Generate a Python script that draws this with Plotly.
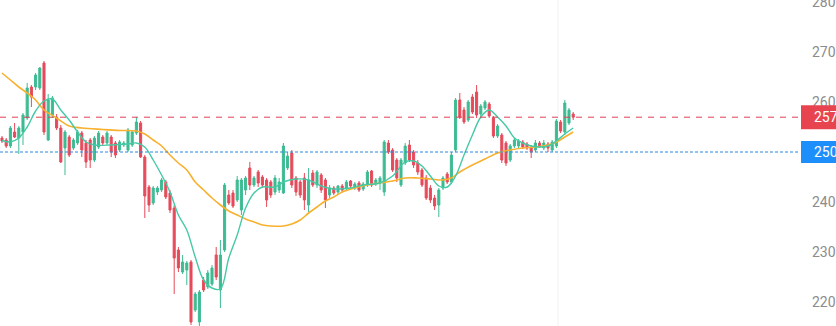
import plotly.graph_objects as go

open_ = [252.8, 252.4, 251.2, 254.0, 252.8, 254.0, 256.8, 263.0, 263.0, 262.8,
         267.8, 252.4, 257.4, 257.0, 254.8, 250.8, 253.0, 250.8, 251.8, 253.8,
         251.8, 252.4, 248.4, 251.0, 253.0, 251.8, 253.0, 251.8, 250.4, 251.4,
         250.4, 251.4, 253.8, 255.8, 249.0, 243.0, 239.8, 242.0, 242.4, 244.0,
         241.8, 238.8, 230.4, 226.0, 226.4, 228.0, 218.4, 216.0, 224.4, 223.0,
         223.6, 229.4, 222.4, 230.4, 241.4, 241.8, 240.4, 238.4, 242.4, 246.8,
         243.4, 246.0, 245.0, 244.4, 244.0, 242.0, 242.4, 241.8, 246.8, 249.8,
         244.8, 244.0, 244.8, 239.4, 245.8, 243.4, 245.4, 244.4, 241.4, 242.8,
         242.0, 243.2, 242.8, 244.2, 242.8, 243.8, 242.6, 243.4, 246.2, 243.6,
         243.8, 242.0, 251.8, 250.4, 248.4, 243.4, 247.8, 251.4, 250.0, 247.8,
         246.4, 244.8, 242.8, 240.8, 239.4, 242.8, 245.6, 244.0, 250.4, 260.4,
         258.4, 256.4, 261.0, 262.0, 257.6, 258.8, 259.6, 256.8, 253.2, 253.4,
         251.8, 248.4, 251.2, 251.2, 252.0, 251.6, 251.0, 250.4, 251.8, 250.8,
         251.6, 250.4, 251.2, 256.0, 254.0, 255.8, 257.6]

close = [252.2, 251.2, 254.8, 253.0, 254.8, 257.4, 262.8, 261.0, 265.4, 266.8,
         254.0, 260.4, 260.8, 254.8, 248.0, 254.0, 249.4, 252.4, 254.0, 250.4,
         248.0, 248.4, 252.8, 253.8, 251.8, 253.8, 250.0, 249.4, 252.0, 251.8,
         254.4, 254.0, 256.0, 249.0, 241.2, 239.4, 242.8, 242.8, 244.4, 241.0,
         238.4, 228.8, 226.8, 228.0, 227.8, 216.0, 221.6, 222.0, 222.4, 225.8,
         226.8, 225.0, 229.4, 243.4, 239.8, 239.2, 244.4, 244.4, 244.8, 243.4,
         244.8, 243.8, 243.4, 240.4, 241.4, 244.8, 244.0, 251.2, 249.2, 243.4,
         242.0, 241.4, 240.4, 244.4, 243.4, 246.0, 242.4, 240.4, 242.8, 241.8,
         243.2, 242.4, 244.0, 243.2, 243.6, 242.4, 243.6, 246.0, 243.4, 244.4,
         244.8, 252.0, 250.0, 246.4, 244.8, 248.4, 251.2, 248.4, 247.4, 246.0,
         243.4, 240.8, 240.4, 239.2, 242.4, 244.8, 244.0, 249.4, 260.4, 257.0,
         256.0, 260.0, 258.0, 257.4, 259.2, 260.0, 257.2, 253.2, 255.2, 248.4,
         247.8, 251.2, 252.4, 252.2, 251.0, 250.8, 250.0, 251.8, 251.0, 251.8,
         250.8, 252.0, 256.2, 254.2, 259.8, 258.4, 256.96]

high = [253.2, 252.8, 255.2, 255.8, 255.2, 257.8, 263.8, 263.4, 265.8, 267.0,
        268.2, 261.6, 261.2, 257.6, 255.4, 254.4, 253.4, 252.8, 254.4, 254.2,
        252.4, 252.8, 253.2, 254.2, 253.4, 254.2, 253.4, 252.2, 252.4, 252.2,
        254.8, 254.4, 257.0, 256.2, 249.4, 243.4, 243.2, 243.2, 244.8, 244.4,
        242.4, 239.4, 231.0, 229.4, 228.2, 228.4, 222.0, 222.4, 225.0, 226.4,
        227.4, 231.0, 232.4, 243.8, 242.4, 242.4, 245.2, 244.8, 245.2, 248.0,
        245.2, 246.4, 245.4, 244.8, 244.4, 245.4, 244.8, 251.8, 250.0, 250.4,
        245.2, 244.4, 245.8, 246.8, 246.4, 246.4, 245.8, 244.8, 243.4, 243.2,
        243.4, 243.6, 244.4, 244.4, 244.0, 244.2, 244.0, 246.4, 246.4, 244.8,
        245.2, 252.4, 252.4, 250.8, 248.8, 248.8, 251.8, 252.4, 250.4, 248.4,
        246.8, 245.4, 243.4, 241.4, 242.8, 245.2, 246.0, 250.0, 260.8, 261.8,
        259.0, 260.4, 261.6, 263.4, 259.6, 260.4, 260.0, 257.2, 255.6, 253.8,
        252.2, 251.6, 252.8, 252.6, 252.4, 252.0, 251.4, 252.4, 252.2, 252.4,
        252.0, 252.4, 256.6, 256.4, 260.4, 258.8, 258.0]

low = [251.8, 250.8, 250.8, 252.8, 249.6, 251.4, 256.4, 259.0, 262.4, 262.4,
       253.4, 252.2, 256.8, 254.4, 247.8, 245.4, 249.0, 250.4, 251.4, 249.0,
       246.8, 246.8, 248.0, 250.6, 251.4, 251.4, 249.0, 248.8, 250.0, 251.0,
       250.0, 251.0, 253.4, 248.8, 236.8, 238.0, 239.4, 241.4, 242.0, 240.6,
       237.8, 221.6, 226.0, 225.6, 223.4, 215.4, 218.0, 215.2, 222.0, 222.6,
       223.2, 224.4, 218.8, 230.0, 239.4, 238.8, 240.0, 237.4, 241.4, 242.4,
       243.0, 243.0, 242.8, 239.0, 240.8, 241.4, 241.8, 241.6, 246.4, 242.8,
       241.2, 240.8, 238.4, 238.0, 243.0, 242.8, 241.8, 238.8, 240.8, 241.4,
       241.6, 242.0, 242.4, 242.8, 242.4, 242.0, 242.2, 243.0, 243.0, 243.2,
       242.4, 241.2, 249.6, 246.0, 244.0, 243.0, 247.4, 248.0, 246.8, 245.4,
       243.0, 240.4, 239.8, 238.4, 237.0, 242.4, 243.6, 243.6, 250.0, 256.6,
       255.6, 256.0, 257.6, 256.8, 256.8, 258.4, 256.8, 252.8, 252.8, 247.8,
       247.2, 248.0, 250.8, 250.8, 250.6, 250.4, 248.8, 250.0, 250.8, 250.4,
       250.0, 250.0, 250.8, 253.8, 253.4, 255.4, 256.4]

ma_short_idx = [0, 2, 4, 6, 8, 10, 12, 14, 16, 18, 20, 22, 26, 30, 32, 34, 36, 38, 40,
                42, 44, 46, 48, 50, 52, 54, 56, 58, 60, 62, 65, 67, 70, 73, 76, 79,
                83, 86, 90, 93, 96, 98, 100, 102, 104, 106, 108, 110, 112, 114, 116,
                118, 120, 122, 124, 126, 128, 130, 132, 134, 136]
ma_short_val = [252.3, 252.0, 252.8, 255.0, 258.2, 260.2, 260.6, 258.4, 256.4, 254.0,
                252.0, 251.4, 251.4, 251.6, 251.8, 251.0, 248.4, 245.4, 242.0, 237.4,
                234.4, 229.0, 224.4, 222.8, 222.6, 228.8, 233.4, 238.8, 241.8, 243.0,
                243.0, 244.0, 244.6, 244.4, 243.2, 242.6, 242.8, 243.4, 243.8, 245.2,
                248.0, 248.2, 247.2, 245.2, 243.2, 243.0, 245.2, 249.4, 253.4, 257.0,
                258.4, 257.0, 255.2, 252.8, 251.8, 251.2, 251.0, 251.2, 252.2, 253.6,
                254.8]

ma_long_idx = [0, 2, 4, 6, 8, 10, 13, 16, 19, 24, 28, 32, 34, 36, 38, 40, 42, 44, 46,
               48, 50, 52, 54, 56, 58, 60, 62, 64, 67, 69, 71, 73, 75, 77, 79, 81, 84,
               87, 90, 93, 96, 99, 102, 105, 107, 109, 112, 115, 118, 121, 124, 127,
               130, 132, 134, 136]
ma_long_val = [265.8, 264.4, 263.0, 261.8, 260.4, 258.4, 256.8, 255.2, 254.8, 254.5,
               254.3, 254.2, 253.6, 252.4, 251.2, 249.4, 247.8, 246.4, 244.0, 242.4,
               240.8, 239.4, 238.2, 237.4, 236.6, 236.0, 235.4, 235.2, 235.2, 235.6,
               236.4, 237.8, 239.0, 240.2, 241.0, 242.0, 242.8, 243.4, 243.8, 244.2,
               244.8, 244.8, 244.6, 244.4, 244.8, 246.0, 247.4, 248.6, 249.8, 250.4,
               250.8, 251.0, 251.4, 252.0, 253.0, 254.0]

last_price = 256.96
ref_price = 250.0
y_ticks = [220, 230, 240, 260, 270, 280]

GREEN = "#3dbb93"
RED = "#e54b5b"

xs = list(range(len(close)))

fig = go.Figure()
fig.add_trace(go.Candlestick(
    x=xs, open=open_, high=high, low=low, close=close,
    increasing=dict(line=dict(color=GREEN, width=1), fillcolor=GREEN),
    decreasing=dict(line=dict(color=RED, width=1), fillcolor=RED),
    whiskerwidth=0, showlegend=False, hoverinfo="skip",
))
fig.add_trace(go.Scatter(x=ma_long_idx, y=ma_long_val, mode="lines",
                         line=dict(color="#f7b12e", width=1.6, shape="spline"),
                         showlegend=False, hoverinfo="skip"))
fig.add_trace(go.Scatter(x=ma_short_idx, y=ma_short_val, mode="lines",
                         line=dict(color="#45c9a6", width=1.4, shape="spline"),
                         showlegend=False, hoverinfo="skip"))

shapes = [
    dict(type="line", xref="paper", yref="paper", x0=0.6975, x1=0.6975, y0=0, y1=1,
         line=dict(color="#f1f1f3", width=1), layer="below"),
    dict(type="line", xref="paper", yref="y", x0=0, x1=1, y0=last_price, y1=last_price,
         line=dict(color="#df3f55", width=1, dash="6px,6px")),
    dict(type="line", xref="paper", yref="y", x0=0, x1=1, y0=ref_price, y1=ref_price,
         line=dict(color="#2f88dd", width=1, dash="3px,2px")),
    dict(type="rect", xref="paper", yref="y", x0=1.00125, x1=1.1,
         y0=last_price - 2.4, y1=last_price + 2.4,
         fillcolor="#e8444f", line=dict(width=0), layer="above"),
    dict(type="rect", xref="paper", yref="y", x0=1.00125, x1=1.1,
         y0=ref_price - 2.2, y1=ref_price + 2.2,
         fillcolor="#1e8ffa", line=dict(width=0), layer="above"),
]

annotations = [
    dict(xref="paper", yref="y", x=1, xshift=12, y=last_price, xanchor="left",
         yanchor="middle", text=f"{last_price:.1f}", showarrow=False,
         font=dict(color="white", size=14, family="Roboto")),
    dict(xref="paper", yref="y", x=1, xshift=12, y=ref_price, xanchor="left",
         yanchor="middle", text=f"{ref_price:.1f}", showarrow=False,
         font=dict(color="white", size=14, family="Roboto")),
]

fig.update_layout(
    width=836, height=326,
    margin=dict(l=0, r=36, t=0, b=0, autoexpand=False),
    paper_bgcolor="white", plot_bgcolor="white",
    shapes=shapes, annotations=annotations,
    xaxis=dict(range=[-0.476, 190.0], showgrid=False, zeroline=False,
               showticklabels=False, rangeslider=dict(visible=False), fixedrange=True,
               automargin=False),
    yaxis=dict(range=[215.2, 280.4], side="right", showgrid=False, zeroline=False,
               tickvals=y_ticks, ticks="", ticklabelstandoff=11,
               ticklabeloverflow="allow", automargin=False,
               tickfont=dict(color="#8c8c8c", size=14, family="Roboto")),
)

fig.write_html("out.html")
